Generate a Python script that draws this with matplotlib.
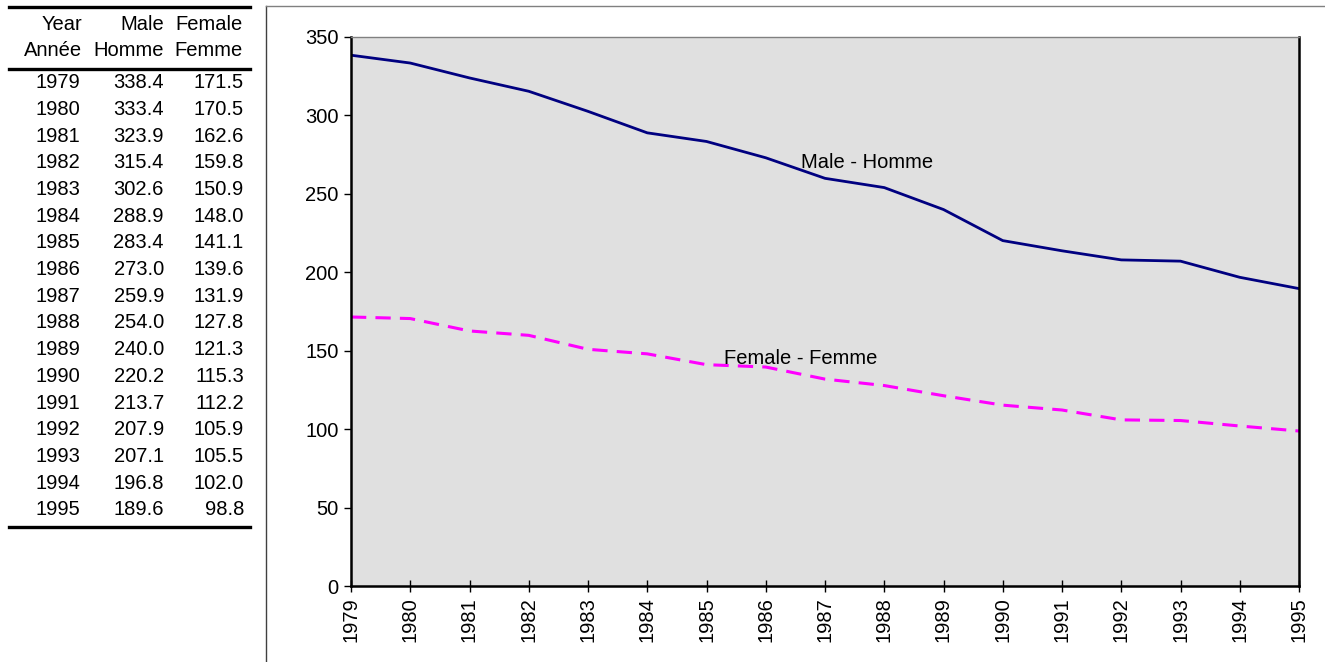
import matplotlib.pyplot as plt
from matplotlib.lines import Line2D

plt.rcParams['font.family'] = ['Liberation Sans', 'DejaVu Sans']

# Taux par année, hommes et femmes
years = [1979, 1980, 1981, 1982, 1983, 1984, 1985, 1986, 1987,
         1988, 1989, 1990, 1991, 1992, 1993, 1994, 1995]
male = [338.4, 333.4, 323.9, 315.4, 302.6, 288.9, 283.4, 273.0, 259.9,
        254.0, 240.0, 220.2, 213.7, 207.9, 207.1, 196.8, 189.6]
female = [171.5, 170.5, 162.6, 159.8, 150.9, 148.0, 141.1, 139.6, 131.9,
          127.8, 121.3, 115.3, 112.2, 105.9, 105.5, 102.0, 98.8]
yticks = [0, 50, 100, 150, 200, 250, 300, 350]

W, H = 1325, 662
fig = plt.figure(figsize=(W / 100, H / 100), dpi=100)
fs = 14.5

def fx(px):
    return px / W

def fy(py):
    return 1 - py / H

# tableau à gauche
for x, txt in [(82, 'Year'), (164, 'Male'), (243, 'Female')]:
    fig.text(fx(x), fy(24), txt, ha='right', va='center', fontsize=fs)
for x, txt in [(82, 'Année'), (164, 'Homme'), (243, 'Femme')]:
    fig.text(fx(x), fy(50), txt, ha='right', va='center', fontsize=fs)
for i, yr in enumerate(years):
    yy = fy(82.7 + 26.7 * i)
    fig.text(fx(80), yy, str(yr), ha='right', va='center', fontsize=fs)
    fig.text(fx(164), yy, f'{male[i]:.1f}', ha='right', va='center', fontsize=fs)
    fig.text(fx(244), yy, f'{female[i]:.1f}', ha='right', va='center', fontsize=fs)
for py in [7, 69, 527]:
    fig.add_artist(Line2D([fx(9), fx(250)], [fy(py), fy(py)], color='black', lw=2.4))

# cadre du graphique
fig.add_artist(Line2D([fx(265.5), fx(265.5)], [fy(6), 0], color='#404040', lw=1))
fig.add_artist(Line2D([fx(265.5), 1], [fy(6), fy(6)], color='#808080', lw=1))

ax = fig.add_axes([fx(351), fy(586), fx(1299 - 351), (586 - 37) / H])
ax.set_facecolor('#E0E0E0')
ax.plot(years, male, color='#000080', lw=2.0, solid_joinstyle='round')
ax.plot(years, female, color='#FF00FF', lw=2.2, dashes=(5, 3))
ax.text(1986.6, 270, 'Male - Homme', fontsize=fs, ha='left', va='center')
ax.text(1985.3, 145, 'Female - Femme', fontsize=fs, ha='left', va='center')

ax.set_xlim(years[0], years[-1])
ax.set_ylim(0, 350)
ax.set_xticks(years)
ax.set_xticklabels([str(y) for y in years], rotation=90, fontsize=fs)
ax.set_yticks(yticks)
ax.set_yticklabels([str(v) for v in yticks], fontsize=fs)
ax.tick_params(axis='y', direction='out', length=5, width=1, pad=4)
ax.tick_params(axis='x', direction='inout', length=8, width=1, pad=4)
for side in ['left', 'bottom', 'right']:
    ax.spines[side].set_linewidth(1.8)
    ax.spines[side].set_color('black')
ax.spines['top'].set_linewidth(1)
ax.spines['top'].set_color('#808080')

fig.savefig('out.png', dpi=100)
